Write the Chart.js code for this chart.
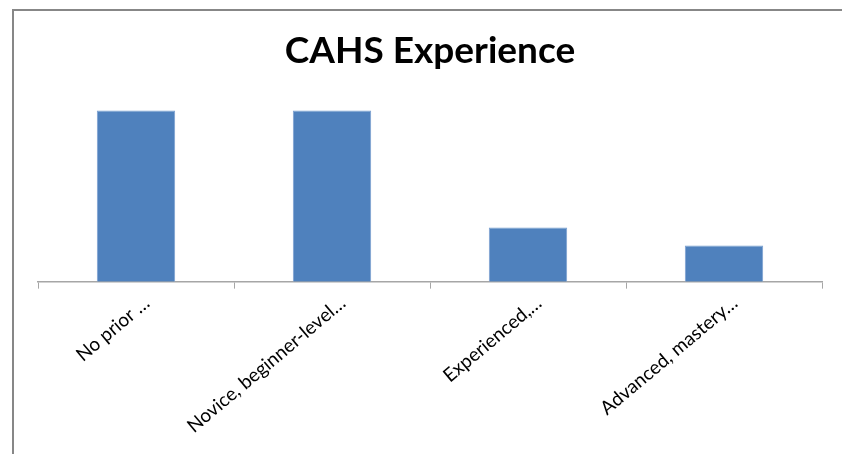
<!DOCTYPE html>
<html>
<head>
<meta charset="utf-8">
<script src="https://cdn.jsdelivr.net/npm/chart.js@4"></script>
<style>
  html, body { margin: 0; padding: 0; background: #fff; }
  #wrap { position: relative; width: 842px; height: 454px; }
</style>
</head>
<body>
<div id="wrap"><canvas id="myChart" width="842" height="454"></canvas></div>
<script>
const categories = ['No prior …', 'Novice, beginner-level…', 'Experienced,…', 'Advanced, mastery…'];
const counts = [19, 19, 6, 4];
const yMax = 20;
const chartTitle = 'CAHS Experience';

// gray frame on the top and left edge, like the copied chart box
const framePlugin = {
  id: 'frame',
  beforeDraw(chart) {
    const c = chart.ctx;
    c.save();
    c.strokeStyle = '#878787';
    c.lineWidth = 2;
    c.beginPath();
    c.moveTo(13, 454);
    c.lineTo(13, 10);
    c.lineTo(842, 10);
    c.stroke();
    c.restore();
  },
};

const ctx = document.getElementById('myChart').getContext('2d');
const chart = new Chart(ctx, {
  type: 'bar',
  data: {
    labels: categories,
    datasets: [
      {
        label: 'Count',
        data: counts,
        backgroundColor: '#4F81BD',
        borderColor: '#7A9FD0',
        borderWidth: 1,
        categoryPercentage: 1,
        barPercentage: 0.4,
      },
    ],
  },
  options: {
    responsive: false,
    animation: false,
    layout: {
      padding: { left: 38, right: 20, top: 0, bottom: 13.5 },
    },
    plugins: {
      legend: { display: false },
      tooltip: { enabled: false },
      title: {
        display: true,
        text: chartTitle,
        color: '#000',
        font: { family: 'Lato', size: 37, weight: 'bold' },
        padding: { top: 28.5, bottom: 28.5 },
      },
    },
    scales: {
      y: {
        display: false,
        min: 0,
        max: yMax,
      },
      x: {
        offset: true,
        grid: {
          offset: true,
          drawOnChartArea: false,
          drawTicks: true,
          tickLength: 7,
          color: '#a6a6a6',
        },
        border: { color: '#a6a6a6', width: 1.5 },
        ticks: {
          color: '#000',
          minRotation: 40,
          maxRotation: 40,
          autoSkip: false,
          labelOffset: 11,
          font: { family: 'Lato', size: 19 },
        },
      },
    },
  },
  plugins: [framePlugin],
});
</script>
</body>
</html>
